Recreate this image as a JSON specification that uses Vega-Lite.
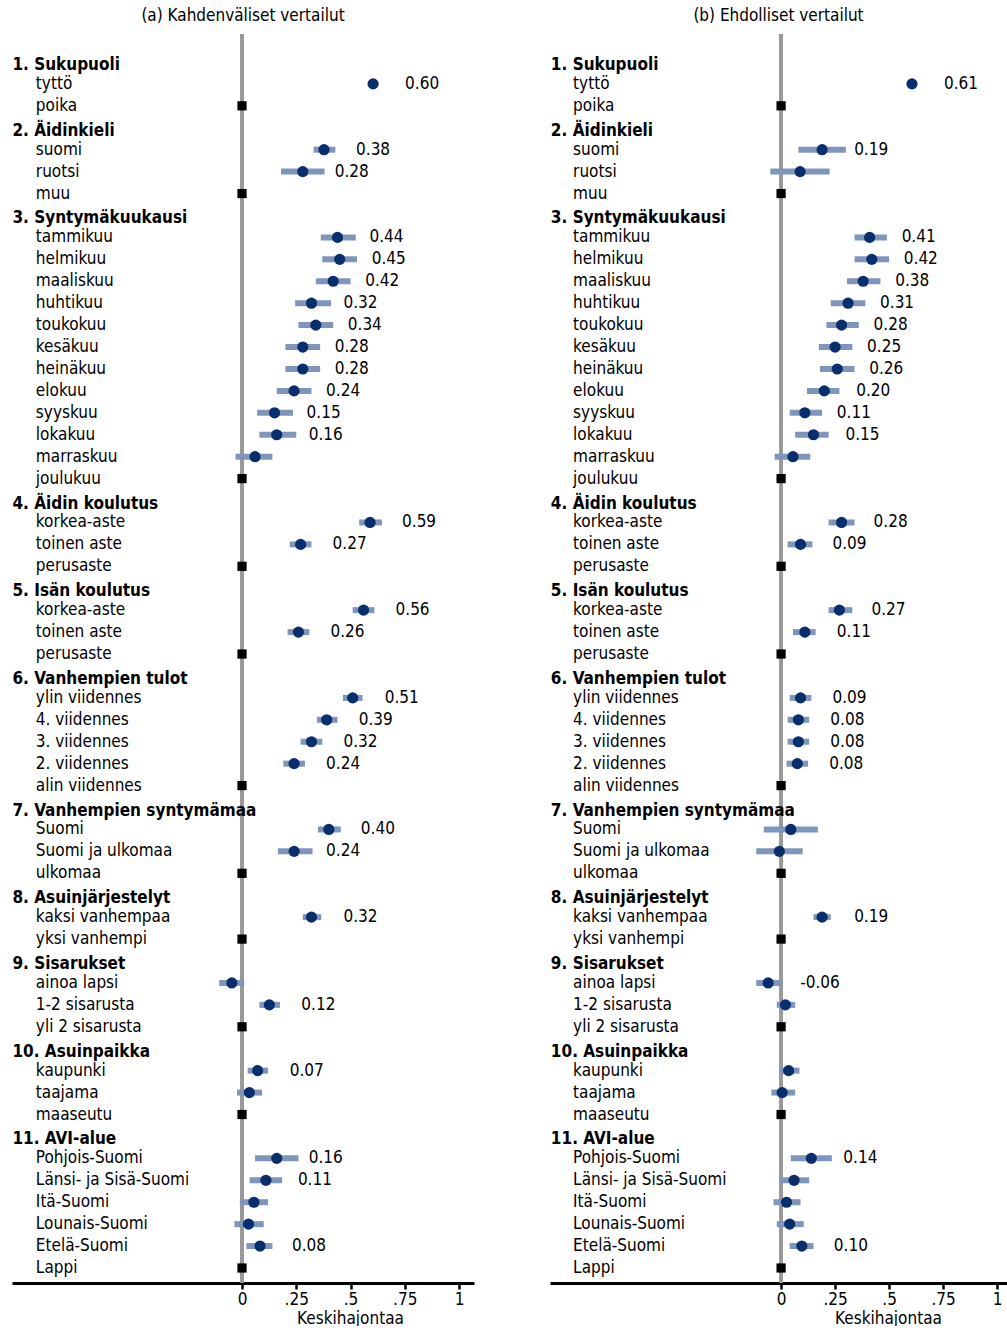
{
  "$schema": "https://vega.github.io/schema/vega-lite/v6.json",
  "padding": {"left": 12, "top": 6, "right": 0, "bottom": 0},
  "spacing": 76,
  "config": {
    "font": "DejaVu Sans Condensed",
    "view": {"stroke": null},
    "title": {"font": "DejaVu Sans Condensed", "fontSize": 17, "fontWeight": "normal", "color": "black", "anchor": "middle", "offset": 8},
    "axisX": {
      "domainColor": "black", "domainWidth": 3, "tickColor": "black", "tickWidth": 2.5, "tickSize": 6,
      "labelFont": "DejaVu Sans Condensed", "labelFontSize": 17, "labelColor": "black", "labelPadding": 2, "grid": false,
      "titleFont": "DejaVu Sans Condensed", "titleFontSize": 17, "titleFontWeight": "normal", "titleColor": "black", "titlePadding": 3, "titleX": 338
    },
    "text": {"font": "DejaVu Sans Condensed", "fontSize": 17, "color": "black"}
  },
  "datasets": {
    "labels": [
      {"r": "r00", "t": "1. Sukupuoli", "h": 1},
      {"r": "r01", "t": "tyttö", "h": 0},
      {"r": "r02", "t": "poika", "h": 0},
      {"r": "r03", "t": "2. Äidinkieli", "h": 1},
      {"r": "r04", "t": "suomi", "h": 0},
      {"r": "r05", "t": "ruotsi", "h": 0},
      {"r": "r06", "t": "muu", "h": 0},
      {"r": "r07", "t": "3. Syntymäkuukausi", "h": 1},
      {"r": "r08", "t": "tammikuu", "h": 0},
      {"r": "r09", "t": "helmikuu", "h": 0},
      {"r": "r10", "t": "maaliskuu", "h": 0},
      {"r": "r11", "t": "huhtikuu", "h": 0},
      {"r": "r12", "t": "toukokuu", "h": 0},
      {"r": "r13", "t": "kesäkuu", "h": 0},
      {"r": "r14", "t": "heinäkuu", "h": 0},
      {"r": "r15", "t": "elokuu", "h": 0},
      {"r": "r16", "t": "syyskuu", "h": 0},
      {"r": "r17", "t": "lokakuu", "h": 0},
      {"r": "r18", "t": "marraskuu", "h": 0},
      {"r": "r19", "t": "joulukuu", "h": 0},
      {"r": "r20", "t": "4. Äidin koulutus", "h": 1},
      {"r": "r21", "t": "korkea-aste", "h": 0},
      {"r": "r22", "t": "toinen aste", "h": 0},
      {"r": "r23", "t": "perusaste", "h": 0},
      {"r": "r24", "t": "5. Isän koulutus", "h": 1},
      {"r": "r25", "t": "korkea-aste", "h": 0},
      {"r": "r26", "t": "toinen aste", "h": 0},
      {"r": "r27", "t": "perusaste", "h": 0},
      {"r": "r28", "t": "6. Vanhempien tulot", "h": 1},
      {"r": "r29", "t": "ylin viidennes", "h": 0},
      {"r": "r30", "t": "4. viidennes", "h": 0},
      {"r": "r31", "t": "3. viidennes", "h": 0},
      {"r": "r32", "t": "2. viidennes", "h": 0},
      {"r": "r33", "t": "alin viidennes", "h": 0},
      {"r": "r34", "t": "7. Vanhempien syntymämaa", "h": 1},
      {"r": "r35", "t": "Suomi", "h": 0},
      {"r": "r36", "t": "Suomi ja ulkomaa", "h": 0},
      {"r": "r37", "t": "ulkomaa", "h": 0},
      {"r": "r38", "t": "8. Asuinjärjestelyt", "h": 1},
      {"r": "r39", "t": "kaksi vanhempaa", "h": 0},
      {"r": "r40", "t": "yksi vanhempi", "h": 0},
      {"r": "r41", "t": "9. Sisarukset", "h": 1},
      {"r": "r42", "t": "ainoa lapsi", "h": 0},
      {"r": "r43", "t": "1-2 sisarusta", "h": 0},
      {"r": "r44", "t": "yli 2 sisarusta", "h": 0},
      {"r": "r45", "t": "10. Asuinpaikka", "h": 1},
      {"r": "r46", "t": "kaupunki", "h": 0},
      {"r": "r47", "t": "taajama", "h": 0},
      {"r": "r48", "t": "maaseutu", "h": 0},
      {"r": "r49", "t": "11. AVI-alue", "h": 1},
      {"r": "r50", "t": "Pohjois-Suomi", "h": 0},
      {"r": "r51", "t": "Länsi- ja Sisä-Suomi", "h": 0},
      {"r": "r52", "t": "Itä-Suomi", "h": 0},
      {"r": "r53", "t": "Lounais-Suomi", "h": 0},
      {"r": "r54", "t": "Etelä-Suomi", "h": 0},
      {"r": "r55", "t": "Lappi", "h": 0}
    ],
    "est": [
      {"p": "a", "r": "r01", "b": 0.604, "lo": 0.598, "hi": 0.61, "lab": "0.60", "ref": 0},
      {"p": "a", "r": "r04", "b": 0.378, "lo": 0.33, "hi": 0.43, "lab": "0.38", "ref": 0},
      {"p": "a", "r": "r05", "b": 0.28, "lo": 0.18, "hi": 0.38, "lab": "0.28", "ref": 0},
      {"p": "a", "r": "r08", "b": 0.44, "lo": 0.363, "hi": 0.524, "lab": "0.44", "ref": 0},
      {"p": "a", "r": "r09", "b": 0.45, "lo": 0.37, "hi": 0.53, "lab": "0.45", "ref": 0},
      {"p": "a", "r": "r10", "b": 0.42, "lo": 0.34, "hi": 0.5, "lab": "0.42", "ref": 0},
      {"p": "a", "r": "r11", "b": 0.32, "lo": 0.245, "hi": 0.41, "lab": "0.32", "ref": 0},
      {"p": "a", "r": "r12", "b": 0.34, "lo": 0.26, "hi": 0.42, "lab": "0.34", "ref": 0},
      {"p": "a", "r": "r13", "b": 0.28, "lo": 0.2, "hi": 0.36, "lab": "0.28", "ref": 0},
      {"p": "a", "r": "r14", "b": 0.28, "lo": 0.2, "hi": 0.36, "lab": "0.28", "ref": 0},
      {"p": "a", "r": "r15", "b": 0.24, "lo": 0.16, "hi": 0.32, "lab": "0.24", "ref": 0},
      {"p": "a", "r": "r16", "b": 0.15, "lo": 0.07, "hi": 0.235, "lab": "0.15", "ref": 0},
      {"p": "a", "r": "r17", "b": 0.16, "lo": 0.08, "hi": 0.25, "lab": "0.16", "ref": 0},
      {"p": "a", "r": "r18", "b": 0.06, "lo": -0.03, "hi": 0.14, "lab": "", "ref": 0},
      {"p": "a", "r": "r21", "b": 0.59, "lo": 0.54, "hi": 0.645, "lab": "0.59", "ref": 0},
      {"p": "a", "r": "r22", "b": 0.27, "lo": 0.22, "hi": 0.32, "lab": "0.27", "ref": 0},
      {"p": "a", "r": "r25", "b": 0.56, "lo": 0.51, "hi": 0.61, "lab": "0.56", "ref": 0},
      {"p": "a", "r": "r26", "b": 0.26, "lo": 0.21, "hi": 0.31, "lab": "0.26", "ref": 0},
      {"p": "a", "r": "r29", "b": 0.51, "lo": 0.465, "hi": 0.555, "lab": "0.51", "ref": 0},
      {"p": "a", "r": "r30", "b": 0.39, "lo": 0.345, "hi": 0.44, "lab": "0.39", "ref": 0},
      {"p": "a", "r": "r31", "b": 0.32, "lo": 0.27, "hi": 0.37, "lab": "0.32", "ref": 0},
      {"p": "a", "r": "r32", "b": 0.24, "lo": 0.19, "hi": 0.29, "lab": "0.24", "ref": 0},
      {"p": "a", "r": "r35", "b": 0.4, "lo": 0.35, "hi": 0.455, "lab": "0.40", "ref": 0},
      {"p": "a", "r": "r36", "b": 0.24, "lo": 0.165, "hi": 0.325, "lab": "0.24", "ref": 0},
      {"p": "a", "r": "r39", "b": 0.32, "lo": 0.28, "hi": 0.365, "lab": "0.32", "ref": 0},
      {"p": "a", "r": "r42", "b": -0.047, "lo": -0.105, "hi": 0.01, "lab": "", "ref": 0},
      {"p": "a", "r": "r43", "b": 0.126, "lo": 0.08, "hi": 0.175, "lab": "0.12", "ref": 0},
      {"p": "a", "r": "r46", "b": 0.072, "lo": 0.026, "hi": 0.12, "lab": "0.07", "ref": 0},
      {"p": "a", "r": "r47", "b": 0.034, "lo": -0.023, "hi": 0.092, "lab": "", "ref": 0},
      {"p": "a", "r": "r50", "b": 0.16, "lo": 0.06, "hi": 0.26, "lab": "0.16", "ref": 0},
      {"p": "a", "r": "r51", "b": 0.11, "lo": 0.035, "hi": 0.185, "lab": "0.11", "ref": 0},
      {"p": "a", "r": "r52", "b": 0.055, "lo": -0.01, "hi": 0.12, "lab": "", "ref": 0},
      {"p": "a", "r": "r53", "b": 0.03, "lo": -0.035, "hi": 0.1, "lab": "", "ref": 0},
      {"p": "a", "r": "r54", "b": 0.083, "lo": 0.02, "hi": 0.14, "lab": "0.08", "ref": 0},
      {"p": "a", "r": "r02", "b": 0, "ref": 1},
      {"p": "a", "r": "r06", "b": 0, "ref": 1},
      {"p": "a", "r": "r19", "b": 0, "ref": 1},
      {"p": "a", "r": "r23", "b": 0, "ref": 1},
      {"p": "a", "r": "r27", "b": 0, "ref": 1},
      {"p": "a", "r": "r33", "b": 0, "ref": 1},
      {"p": "a", "r": "r37", "b": 0, "ref": 1},
      {"p": "a", "r": "r40", "b": 0, "ref": 1},
      {"p": "a", "r": "r44", "b": 0, "ref": 1},
      {"p": "a", "r": "r48", "b": 0, "ref": 1},
      {"p": "a", "r": "r55", "b": 0, "ref": 1},
      {"p": "b", "r": "r01", "b": 0.606, "lo": 0.6, "hi": 0.612, "lab": "0.61", "ref": 0},
      {"p": "b", "r": "r04", "b": 0.19, "lo": 0.08, "hi": 0.3, "lab": "0.19", "ref": 0},
      {"p": "b", "r": "r05", "b": 0.088, "lo": -0.05, "hi": 0.225, "lab": "", "ref": 0},
      {"p": "b", "r": "r08", "b": 0.41, "lo": 0.34, "hi": 0.49, "lab": "0.41", "ref": 0},
      {"p": "b", "r": "r09", "b": 0.42, "lo": 0.34, "hi": 0.5, "lab": "0.42", "ref": 0},
      {"p": "b", "r": "r10", "b": 0.38, "lo": 0.305, "hi": 0.46, "lab": "0.38", "ref": 0},
      {"p": "b", "r": "r11", "b": 0.31, "lo": 0.23, "hi": 0.39, "lab": "0.31", "ref": 0},
      {"p": "b", "r": "r12", "b": 0.28, "lo": 0.21, "hi": 0.36, "lab": "0.28", "ref": 0},
      {"p": "b", "r": "r13", "b": 0.25, "lo": 0.175, "hi": 0.33, "lab": "0.25", "ref": 0},
      {"p": "b", "r": "r14", "b": 0.26, "lo": 0.18, "hi": 0.34, "lab": "0.26", "ref": 0},
      {"p": "b", "r": "r15", "b": 0.2, "lo": 0.12, "hi": 0.27, "lab": "0.20", "ref": 0},
      {"p": "b", "r": "r16", "b": 0.11, "lo": 0.04, "hi": 0.19, "lab": "0.11", "ref": 0},
      {"p": "b", "r": "r17", "b": 0.15, "lo": 0.065, "hi": 0.22, "lab": "0.15", "ref": 0},
      {"p": "b", "r": "r18", "b": 0.055, "lo": -0.03, "hi": 0.135, "lab": "", "ref": 0},
      {"p": "b", "r": "r21", "b": 0.28, "lo": 0.22, "hi": 0.34, "lab": "0.28", "ref": 0},
      {"p": "b", "r": "r22", "b": 0.09, "lo": 0.03, "hi": 0.145, "lab": "0.09", "ref": 0},
      {"p": "b", "r": "r25", "b": 0.27, "lo": 0.22, "hi": 0.33, "lab": "0.27", "ref": 0},
      {"p": "b", "r": "r26", "b": 0.11, "lo": 0.055, "hi": 0.16, "lab": "0.11", "ref": 0},
      {"p": "b", "r": "r29", "b": 0.09, "lo": 0.04, "hi": 0.14, "lab": "0.09", "ref": 0},
      {"p": "b", "r": "r30", "b": 0.08, "lo": 0.03, "hi": 0.13, "lab": "0.08", "ref": 0},
      {"p": "b", "r": "r31", "b": 0.08, "lo": 0.03, "hi": 0.13, "lab": "0.08", "ref": 0},
      {"p": "b", "r": "r32", "b": 0.075, "lo": 0.025, "hi": 0.125, "lab": "0.08", "ref": 0},
      {"p": "b", "r": "r35", "b": 0.045, "lo": -0.08, "hi": 0.17, "lab": "", "ref": 0},
      {"p": "b", "r": "r36", "b": -0.008, "lo": -0.115, "hi": 0.1, "lab": "", "ref": 0},
      {"p": "b", "r": "r39", "b": 0.19, "lo": 0.15, "hi": 0.23, "lab": "0.19", "ref": 0},
      {"p": "b", "r": "r42", "b": -0.06, "lo": -0.115, "hi": 0.0, "lab": "-0.06", "ref": 0},
      {"p": "b", "r": "r43", "b": 0.02, "lo": -0.02, "hi": 0.065, "lab": "", "ref": 0},
      {"p": "b", "r": "r46", "b": 0.035, "lo": -0.005, "hi": 0.085, "lab": "", "ref": 0},
      {"p": "b", "r": "r47", "b": 0.005, "lo": -0.045, "hi": 0.065, "lab": "", "ref": 0},
      {"p": "b", "r": "r50", "b": 0.14, "lo": 0.045, "hi": 0.235, "lab": "0.14", "ref": 0},
      {"p": "b", "r": "r51", "b": 0.06, "lo": -0.005, "hi": 0.13, "lab": "", "ref": 0},
      {"p": "b", "r": "r52", "b": 0.025, "lo": -0.035, "hi": 0.09, "lab": "", "ref": 0},
      {"p": "b", "r": "r53", "b": 0.04, "lo": -0.02, "hi": 0.105, "lab": "", "ref": 0},
      {"p": "b", "r": "r54", "b": 0.096, "lo": 0.04, "hi": 0.15, "lab": "0.10", "ref": 0},
      {"p": "b", "r": "r02", "b": 0, "ref": 1},
      {"p": "b", "r": "r06", "b": 0, "ref": 1},
      {"p": "b", "r": "r19", "b": 0, "ref": 1},
      {"p": "b", "r": "r23", "b": 0, "ref": 1},
      {"p": "b", "r": "r27", "b": 0, "ref": 1},
      {"p": "b", "r": "r33", "b": 0, "ref": 1},
      {"p": "b", "r": "r37", "b": 0, "ref": 1},
      {"p": "b", "r": "r40", "b": 0, "ref": 1},
      {"p": "b", "r": "r44", "b": 0, "ref": 1},
      {"p": "b", "r": "r48", "b": 0, "ref": 1},
      {"p": "b", "r": "r55", "b": 0, "ref": 1}
    ]
  },
  "hconcat": [
    {
      "title": "(a) Kahdenväliset vertailut",
      "width": 462,
      "height": 1249,
      "layer": [
        {
          "data": {"name": "labels"},
          "mark": {"type": "rule", "color": "#999999", "strokeWidth": 2.5},
          "encoding": {
            "x": {"datum": 0, "type": "quantitative", "scale": {"domain": [-1.06, 1.069], "nice": false, "zero": false}, "axis": {"values": [0, 0.25, 0.5, 0.75, 1], "labelExpr": "datum.value == 0 ? '0' : datum.value == 1 ? '1' : replace(format(datum.value, '.2~f'), '0.', '.')", "title": "Keskihajontaa"}}
          }
        },
        {
          "data": {"name": "est"},
          "transform": [{"filter": "datum.p == 'a' && datum.ref == 0"}],
          "mark": {"type": "rule", "color": "#7f95bb", "strokeWidth": 6},
          "encoding": {
            "x": {"field": "lo", "type": "quantitative", "title": "Keskihajontaa"},
            "x2": {"field": "hi"},
            "y": {"field": "r", "type": "nominal", "axis": null, "scale": {"type": "point", "padding": 0.98, "align": 0.651}}
          }
        },
        {
          "data": {"name": "est"},
          "transform": [{"filter": "datum.p == 'a' && datum.ref == 0"}],
          "mark": {"type": "point", "shape": "circle", "filled": true, "opacity": 1, "size": 125, "color": "#082e6e"},
          "encoding": {
            "x": {"field": "b", "type": "quantitative", "title": "Keskihajontaa"},
            "y": {"field": "r", "type": "nominal", "axis": null}
          }
        },
        {
          "data": {"name": "est"},
          "transform": [{"filter": "datum.p == 'a' && datum.ref == 1"}],
          "mark": {"type": "point", "shape": "square", "filled": true, "opacity": 1, "size": 85, "color": "black"},
          "encoding": {
            "x": {"field": "b", "type": "quantitative", "title": "Keskihajontaa"},
            "y": {"field": "r", "type": "nominal", "axis": null}
          }
        },
        {
          "data": {"name": "est"},
          "transform": [{"filter": "datum.p == 'a' && datum.ref == 0 && datum.lab != ''"}],
          "mark": {"type": "text", "align": "left", "baseline": "middle", "dx": 32},
          "encoding": {
            "x": {"field": "b", "type": "quantitative", "title": "Keskihajontaa"},
            "y": {"field": "r", "type": "nominal", "axis": null},
            "text": {"field": "lab"}
          }
        },
        {
          "data": {"name": "labels"},
          "transform": [{"filter": "datum.h == 1"}],
          "mark": {"type": "text", "align": "left", "baseline": "middle", "fontWeight": "bold", "dy": 3},
          "encoding": {
            "x": {"datum": -1.058, "type": "quantitative"},
            "y": {"field": "r", "type": "nominal", "axis": null},
            "text": {"field": "t"}
          }
        },
        {
          "data": {"name": "labels"},
          "transform": [{"filter": "datum.h == 0"}],
          "mark": {"type": "text", "align": "left", "baseline": "middle"},
          "encoding": {
            "x": {"datum": -0.95, "type": "quantitative"},
            "y": {"field": "r", "type": "nominal", "axis": null},
            "text": {"field": "t"}
          }
        }
      ]
    },
    {
      "title": "(b) Ehdolliset vertailut",
      "width": 457,
      "height": 1249,
      "layer": [
        {
          "data": {"name": "labels"},
          "mark": {"type": "rule", "color": "#999999", "strokeWidth": 2.5},
          "encoding": {
            "x": {"datum": 0, "type": "quantitative", "scale": {"domain": [-1.07, 1.046], "nice": false, "zero": false}, "axis": {"values": [0, 0.25, 0.5, 0.75, 1], "labelExpr": "datum.value == 0 ? '0' : datum.value == 1 ? '1' : replace(format(datum.value, '.2~f'), '0.', '.')", "title": "Keskihajontaa"}}
          }
        },
        {
          "data": {"name": "est"},
          "transform": [{"filter": "datum.p == 'b' && datum.ref == 0"}],
          "mark": {"type": "rule", "color": "#7f95bb", "strokeWidth": 6},
          "encoding": {
            "x": {"field": "lo", "type": "quantitative", "title": "Keskihajontaa"},
            "x2": {"field": "hi"},
            "y": {"field": "r", "type": "nominal", "axis": null, "scale": {"type": "point", "padding": 0.98, "align": 0.651}}
          }
        },
        {
          "data": {"name": "est"},
          "transform": [{"filter": "datum.p == 'b' && datum.ref == 0"}],
          "mark": {"type": "point", "shape": "circle", "filled": true, "opacity": 1, "size": 125, "color": "#082e6e"},
          "encoding": {
            "x": {"field": "b", "type": "quantitative", "title": "Keskihajontaa"},
            "y": {"field": "r", "type": "nominal", "axis": null}
          }
        },
        {
          "data": {"name": "est"},
          "transform": [{"filter": "datum.p == 'b' && datum.ref == 1"}],
          "mark": {"type": "point", "shape": "square", "filled": true, "opacity": 1, "size": 85, "color": "black"},
          "encoding": {
            "x": {"field": "b", "type": "quantitative", "title": "Keskihajontaa"},
            "y": {"field": "r", "type": "nominal", "axis": null}
          }
        },
        {
          "data": {"name": "est"},
          "transform": [{"filter": "datum.p == 'b' && datum.ref == 0 && datum.lab != ''"}],
          "mark": {"type": "text", "align": "left", "baseline": "middle", "dx": 32},
          "encoding": {
            "x": {"field": "b", "type": "quantitative", "title": "Keskihajontaa"},
            "y": {"field": "r", "type": "nominal", "axis": null},
            "text": {"field": "lab"}
          }
        },
        {
          "data": {"name": "labels"},
          "transform": [{"filter": "datum.h == 1"}],
          "mark": {"type": "text", "align": "left", "baseline": "middle", "fontWeight": "bold", "dy": 3},
          "encoding": {
            "x": {"datum": -1.066, "type": "quantitative"},
            "y": {"field": "r", "type": "nominal", "axis": null},
            "text": {"field": "t"}
          }
        },
        {
          "data": {"name": "labels"},
          "transform": [{"filter": "datum.h == 0"}],
          "mark": {"type": "text", "align": "left", "baseline": "middle"},
          "encoding": {
            "x": {"datum": -0.963, "type": "quantitative"},
            "y": {"field": "r", "type": "nominal", "axis": null},
            "text": {"field": "t"}
          }
        }
      ]
    }
  ]
}
